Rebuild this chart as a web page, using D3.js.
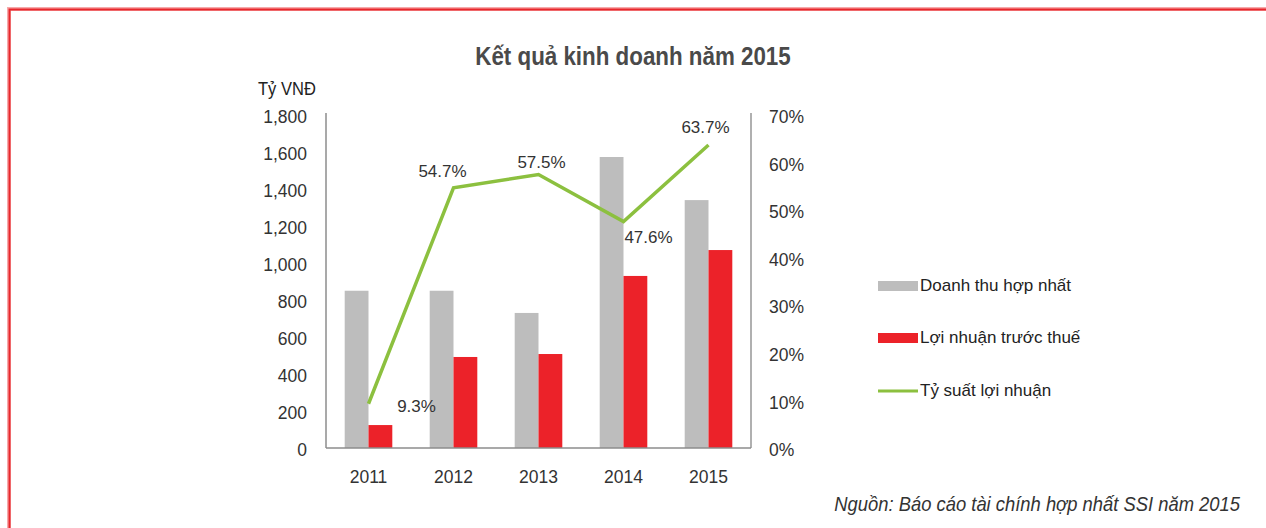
<!DOCTYPE html>
<html>
<head>
<meta charset="utf-8">
<script src="https://cdn.jsdelivr.net/npm/d3@7"></script>
<style>
  html, body { margin: 0; padding: 0; background: #fff; }
  svg { display: block; }
  text { font-family: "Liberation Sans", Arial, sans-serif; }
</style>
</head>
<body>
<svg id="chart" width="1266" height="528"></svg>
<script>
// Business results of SSI, 2011–2015
const years = ["2011", "2012", "2013", "2014", "2015"];
const revenue = [850, 850, 730, 1573, 1340];       // Doanh thu hợp nhất (tỷ VNĐ)
const profitBeforeTax = [124, 492, 508, 930, 1070]; // Lợi nhuận trước thuế (tỷ VNĐ)
const margin = [9.3, 54.7, 57.5, 47.6, 63.7];       // Tỷ suất lợi nhuận (%)
const leftTicks = [0, 200, 400, 600, 800, 1000, 1200, 1400, 1600, 1800];
const rightTicks = [0, 10, 20, 30, 40, 50, 60, 70];
const seriesNames = ["Doanh thu hợp nhất", "Lợi nhuận trước thuế", "Tỷ suất lợi nhuận"];

// label placement relative to each line point (dx, dy)
const labelOffsets = [[48, 4], [-11, -15], [3, -11], [25, 17], [-3, -16]];

const colors = { revenue: "#bdbdbd", profit: "#ec2229", margin: "#8cc03f", text: "#333" };

const svg = d3.select("#chart");

// horizontally condensed text, anchored at (x, y)
function condensedText(parent, x, y, sx, str) {
  return parent.append("g")
    .attr("transform", `translate(${x},${y}) scale(${sx},1)`)
    .append("text")
    .attr("x", 0).attr("y", 0)
    .text(str);
}

// frame
svg.append("path")
  .attr("d", "M9,528 V9 H1266")
  .attr("fill", "none").attr("stroke", "#f6a9ab").attr("stroke-width", 4);
svg.append("path")
  .attr("d", "M9.5,528 V9.5 H1266")
  .attr("fill", "none").attr("stroke", "#e8262b").attr("stroke-width", 2);

const plot = { left: 326, right: 751, top: 115, bottom: 448 };

const x = d3.scaleBand().domain(years).range([plot.left, plot.right]).paddingInner(0.44).paddingOuter(0.22);
const xSub = d3.scaleBand().domain(["rev", "pro"]).range([0, x.bandwidth()]);
const y = d3.scaleLinear().domain([0, 1800]).range([plot.bottom, plot.top]);
const yR = d3.scaleLinear().domain([0, 70]).range([plot.bottom, plot.top]);

// title
condensedText(svg, 633, 65, 0.86, "Kết quả kinh doanh năm 2015")
  .attr("text-anchor", "middle")
  .attr("font-size", 26).attr("font-weight", "bold")
  .attr("fill", "#4a4a4a");

condensedText(svg, 258, 95, 0.92, "Tỷ VNĐ")
  .attr("font-size", 18).attr("fill", "#222");

// bars
const g = svg.append("g");
years.forEach((yr, i) => {
  g.append("rect")
    .attr("x", x(yr) + xSub("rev")).attr("width", xSub.bandwidth())
    .attr("y", y(revenue[i])).attr("height", y(0) - y(revenue[i]))
    .attr("fill", colors.revenue);
  g.append("rect")
    .attr("x", x(yr) + xSub("pro")).attr("width", xSub.bandwidth())
    .attr("y", y(profitBeforeTax[i])).attr("height", y(0) - y(profitBeforeTax[i]))
    .attr("fill", colors.profit);
});

// axes
const axisStyle = sel => {
  sel.select(".domain").remove();
  sel.selectAll(".tick line").remove();
  sel.selectAll("text").attr("font-size", 17.5).attr("fill", colors.text)
    .attr("font-family", "'Liberation Sans', Arial, sans-serif");
};

svg.append("g")
  .attr("transform", `translate(${plot.left - 19},2)`)
  .call(d3.axisLeft(y).tickValues(leftTicks).tickSize(0).tickPadding(0).tickFormat(d3.format(",")))
  .call(axisStyle);

svg.append("g")
  .attr("transform", `translate(${plot.right + 18},2)`)
  .call(d3.axisRight(yR).tickValues(rightTicks).tickSize(0).tickPadding(0).tickFormat(d => d + "%"))
  .call(axisStyle);

svg.append("g")
  .attr("transform", `translate(0,${plot.bottom + 23})`)
  .call(d3.axisBottom(x).tickSize(0).tickPadding(0))
  .call(axisStyle);

// axis lines
svg.append("line")
  .attr("x1", plot.left).attr("x2", plot.left)
  .attr("y1", plot.top - 2).attr("y2", plot.bottom)
  .attr("stroke", "#8c8c8c").attr("stroke-width", 1.5);
svg.append("line")
  .attr("x1", plot.right).attr("x2", plot.right)
  .attr("y1", plot.top - 2).attr("y2", plot.bottom)
  .attr("stroke", "#b0b0b0").attr("stroke-width", 2);
svg.append("line")
  .attr("x1", plot.left).attr("x2", plot.right)
  .attr("y1", plot.bottom).attr("y2", plot.bottom)
  .attr("stroke", "#8c8c8c").attr("stroke-width", 1.5);

// margin line
const cx = d => x(d) + x.bandwidth() / 2;
const line = d3.line().x((d, i) => cx(years[i])).y(d => yR(d));
svg.append("path")
  .datum(margin)
  .attr("d", line)
  .attr("fill", "none")
  .attr("stroke", colors.margin)
  .attr("stroke-width", 3.5)
  .attr("stroke-linejoin", "miter");

svg.append("g").selectAll("text")
  .data(margin)
  .join("text")
  .attr("x", (d, i) => cx(years[i]) + labelOffsets[i][0])
  .attr("y", (d, i) => yR(d) + labelOffsets[i][1])
  .attr("text-anchor", "middle")
  .attr("dominant-baseline", "middle")
  .attr("font-size", 17).attr("fill", colors.text)
  .text(d => d.toFixed(1) + "%");

// legend
const legend = svg.append("g").attr("transform", "translate(878,0)");
const legendRows = [
  { name: seriesNames[0], type: "rect", color: colors.revenue, y: 286 },
  { name: seriesNames[1], type: "rect", color: colors.profit, y: 338 },
  { name: seriesNames[2], type: "line", color: colors.margin, y: 391 }
];
legendRows.forEach(r => {
  if (r.type === "rect") {
    legend.append("rect").attr("x", 0).attr("y", r.y - 5).attr("width", 40).attr("height", 10).attr("fill", r.color);
  } else {
    legend.append("line").attr("x1", 0).attr("x2", 40).attr("y1", r.y).attr("y2", r.y)
      .attr("stroke", r.color).attr("stroke-width", 3);
  }
  legend.append("text")
    .attr("x", 42).attr("y", r.y + 1)
    .attr("dominant-baseline", "middle")
    .attr("font-size", 17).attr("fill", "#222")
    .text(r.name);
});

// source
condensedText(svg, 1240, 511, 0.92, "Nguồn: Báo cáo tài chính hợp nhất SSI năm 2015")
  .attr("text-anchor", "end")
  .attr("font-size", 20).attr("font-style", "italic")
  .attr("fill", "#333");
</script>
</body>
</html>
